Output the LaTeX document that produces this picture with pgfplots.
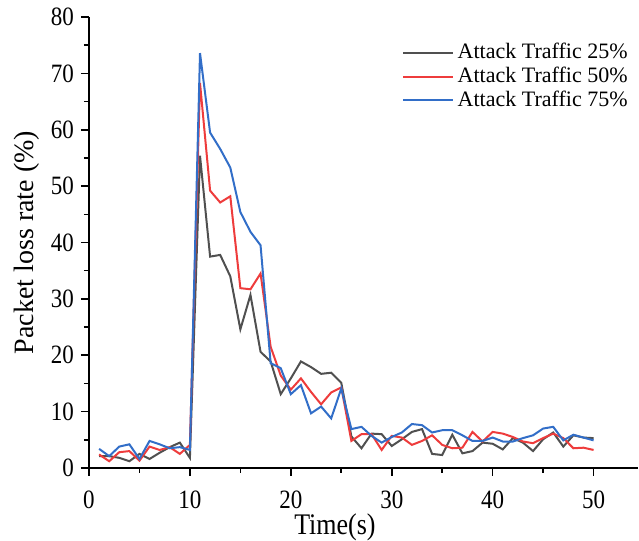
\documentclass[border=0pt]{standalone}
\usepackage{fontspec}
\setmainfont{Liberation Serif}
\usepackage{pgfplots}
\pgfplotsset{compat=1.18}
\usepackage{pgfplotstable}
\definecolor{cgray}{RGB}{80,80,80}
\definecolor{cred}{RGB}{238,60,60}
\definecolor{cblue}{RGB}{50,110,200}
\pgfplotstableread{
t y
1 2.1
2 2.1
3 1.8
4 1.2
5 2.5
6 1.6
7 2.7
8 3.7
9 4.5
10 1.8
11 55.4
12 37.5
13 37.8
14 34.0
15 24.6
16 30.7
17 20.6
18 18.9
19 13.1
20 15.9
21 18.9
22 17.9
23 16.7
24 16.9
25 15.1
26 5.6
27 3.5
28 6.1
29 6.0
30 3.9
31 5.1
32 6.4
33 6.9
34 2.5
35 2.3
36 5.9
37 2.6
38 3.0
39 4.5
40 4.3
41 3.3
42 5.3
43 4.5
44 3.0
45 5.1
46 6.3
47 3.8
48 5.8
49 5.4
50 5.3
}\tgray
\pgfplotstableread{
t y
1 2.4
2 1.2
3 2.8
4 3.0
5 1.3
6 3.8
7 3.2
8 3.7
9 2.5
10 4.1
11 68.3
12 49.2
13 47.1
14 48.2
15 31.9
16 31.7
17 34.5
18 21.5
19 16.4
20 13.9
21 15.9
22 13.5
23 11.3
24 13.4
25 14.3
26 4.8
27 6.0
28 6.0
29 3.2
30 5.7
31 5.4
32 4.1
33 4.8
34 5.8
35 4.1
36 3.5
37 3.6
38 6.4
39 4.7
40 6.4
41 6.1
42 5.5
43 4.7
44 4.4
45 5.3
46 6.1
47 5.3
48 3.5
49 3.6
50 3.2
}\tred
\pgfplotstableread{
t y
1 3.4
2 2.1
3 3.8
4 4.2
5 1.6
6 4.8
7 4.2
8 3.5
9 3.7
10 3.2
11 73.6
12 59.5
13 56.6
14 53.3
15 45.4
16 41.9
17 39.5
18 18.6
19 17.7
20 13.1
21 14.7
22 9.7
23 10.9
24 8.8
25 14.1
26 6.9
27 7.3
28 5.7
29 4.5
30 5.5
31 6.3
32 7.8
33 7.6
34 6.3
35 6.7
36 6.7
37 5.8
38 4.8
39 4.8
40 5.4
41 4.7
42 4.7
43 5.3
44 5.8
45 7.0
46 7.3
47 4.9
48 5.9
49 5.4
50 4.9
}\tblue
\begin{document}
\begin{tikzpicture}
\begin{axis}[
  scale only axis,
  width=274.5pt, height=225.5pt,
  xmin=0, xmax=54.4, ymin=0, ymax=80,
  axis lines*=left,
  axis line style={line width=0.8pt},
  xtick={0,10,20,30,40,50},
  ytick={0,10,20,30,40,50,60,70,80},
  minor xtick={5,15,25,35,45},
  minor ytick={5,15,25,35,45,55,65,75},
  tick align=outside,
  major tick length=4pt,
  minor tick length=2.5pt,
  tick style={line width=0.8pt, black},
  /pgf/number format/assume math mode=true,
  ticklabel style={font=\fontsize{11.5}{13}\selectfont, yscale=1.15},
  xticklabel style={yshift=-3pt},
  xlabel={Time(s)},
  ylabel={Packet loss rate (\%)},
  xlabel style={font=\fontsize{13}{15}\selectfont, yscale=1.15, at={(axis description cs:0.448,0)}, anchor=north, yshift=-16.5pt},
  ylabel style={font=\fontsize{14}{16}\selectfont, yshift=-1pt},
  legend style={draw=none, fill=none, at={(1.0,0.96)}, anchor=north east,
    font=\fontsize{11}{12}\selectfont, row sep=-1.3pt},
  legend cell align=left,
  legend image post style={xscale=1.45, line width=1pt},
  every axis plot/.append style={line width=1pt},
]
\addplot[cgray] table[x=t,y=y] {\tgray};
\addlegendentry{Attack Traffic 25\%}
\addplot[cred] table[x=t,y=y] {\tred};
\addlegendentry{Attack Traffic 50\%}
\addplot[cblue] table[x=t,y=y] {\tblue};
\addlegendentry{Attack Traffic 75\%}
\coordinate (SW) at (rel axis cs:0,0);
\end{axis}
\pgfresetboundingbox
\path (SW) ++(-44.5pt,-36.5pt) rectangle ++(319.5pt,270.5pt);
\end{tikzpicture}
\end{document}
